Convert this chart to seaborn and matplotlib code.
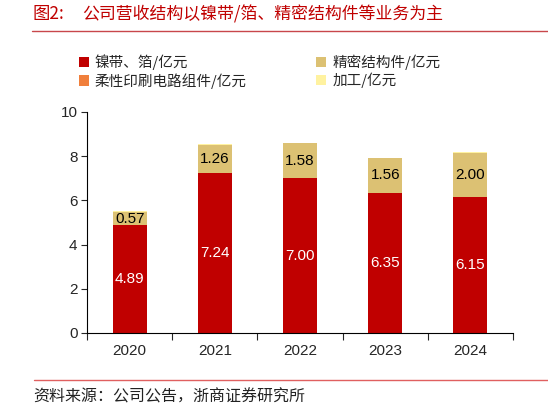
import numpy as np
import pandas as pd
import matplotlib
matplotlib.use('Agg')
import matplotlib.pyplot as plt
from matplotlib.patches import Patch
from matplotlib.lines import Line2D
import seaborn as sns

# data
years = ['2020', '2021', '2022', '2023', '2024']
nickel = [4.89, 7.24, 7.00, 6.35, 6.15]      # 镍带、箔
precision = [0.57, 1.26, 1.58, 1.56, 2.00]   # 精密结构件
fpc = [0.0, 0.0, 0.0, 0.0, 0.0]              # 柔性印刷电路组件
processing = [0.05, 0.04, 0.03, 0.02, 0.03]  # 加工

series_names = ['镍带、箔/亿元', '精密结构件/亿元', '柔性印刷电路组件/亿元', '加工/亿元']
colors = ['#C00000', '#DCC173', '#F07F3C', '#FFF2A0']

sns.set_style('white')
plt.rcParams['font.family'] = ['Liberation Sans', 'Noto Sans CJK SC', 'DejaVu Sans']
cjk = ['Noto Sans CJK SC', 'DejaVu Sans']

df = pd.DataFrame({'year': years, 'nickel': nickel, 'precision': precision,
                   'fpc': fpc, 'processing': processing})
stack = [df['nickel'],
         df['nickel'] + df['precision'],
         df['nickel'] + df['precision'] + df['fpc'],
         df['nickel'] + df['precision'] + df['fpc'] + df['processing']]

fig = plt.figure(figsize=(5.48, 4.11), dpi=100)
ax = fig.add_axes([0.159, 0.190, 0.777, 0.5375])

# overlay cumulative bars, tallest first
for i in [3, 2, 1, 0]:
    sns.barplot(x=df['year'], y=stack[i], color=colors[i], width=0.4,
                saturation=1, ax=ax, edgecolor='none', linewidth=0)

# value labels
for i, y in enumerate(years):
    ax.text(i, nickel[i] / 2, f'{nickel[i]:.2f}', ha='center', va='center',
            color='white', fontsize=11)
    ax.text(i, nickel[i] + precision[i] / 2, f'{precision[i]:.2f}', ha='center',
            va='center', color='black', fontsize=11)

ax.set_ylim(0, 10)
ax.set_yticks([0, 2, 4, 6, 8, 10])
ax.set_xlim(-0.5, len(years) - 0.5)
ax.set_xlabel('')
ax.set_ylabel('')
for s in ['top', 'right']:
    ax.spines[s].set_visible(False)
for s in ['left', 'bottom']:
    ax.spines[s].set_color('black')
    ax.spines[s].set_linewidth(0.8)
ax.tick_params(axis='y', direction='out', length=4, width=0.8, labelsize=11,
               left=True, pad=3)
ax.tick_params(axis='x', length=0, labelsize=11, pad=8)
# ticks between categories
ax.set_xticks(np.arange(-0.5, len(years)), minor=True)
ax.tick_params(axis='x', which='minor', direction='out', length=5, width=0.8,
               bottom=True)

# legend (column-major order: left column 0,2 ; right column 1,3)
handles = [Patch(facecolor=c, edgecolor='none') for c in colors]
order = [0, 2, 1, 3]
fig.legend([handles[k] for k in order], [series_names[k] for k in order],
           loc='upper left', bbox_to_anchor=(0.12, 0.90), ncol=2,
           frameon=False, handlelength=0.7, handleheight=0.7,
           handletextpad=0.4, columnspacing=4.75, labelspacing=0.2,
           prop={'family': cjk, 'size': 10.5})

# title and rules
fig.text(0.060, 0.966, '图2:', color='#C00000', fontsize=12.5, ha='left',
         va='center', family=cjk)
fig.text(0.150, 0.966, '公司营收结构以镍带/箔、精密结构件等业务为主', color='#C00000',
         fontsize=12.2, ha='left', va='center', family=cjk)
fig.add_artist(Line2D([0.058, 1.0], [0.925, 0.925], color='#C8474B', linewidth=1.0))
fig.add_artist(Line2D([0.062, 1.0], [0.075, 0.075], color='#E06060', linewidth=1.0))
fig.text(0.060, 0.034, '资料来源：公司公告，浙商证券研究所', color='#222222', fontsize=11.5,
         ha='left', va='center', family=cjk)

fig.savefig('out.png', dpi=100)
